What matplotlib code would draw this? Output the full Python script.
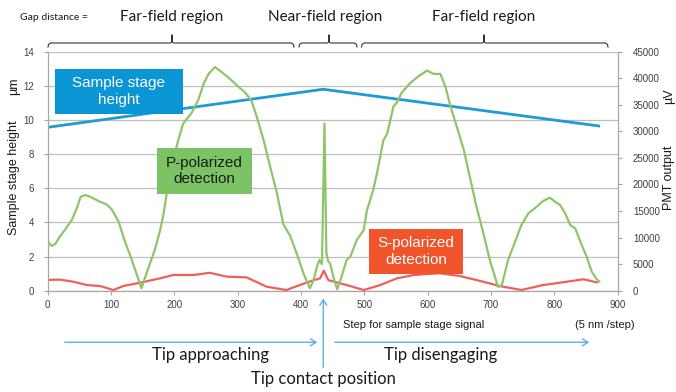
import matplotlib
matplotlib.use("Agg")
import matplotlib.pyplot as plt
from matplotlib.lines import Line2D
from matplotlib.patches import Rectangle, FancyArrowPatch

# stage height (um), left axis
stage_x = [0, 435, 870]
stage_y = [9.57, 11.8, 9.65]

# P-polarized PMT output (uV), right axis
p_x = [0, 6, 12, 19, 27, 38, 46, 52, 59, 64, 72, 83, 93, 101, 112, 122, 130, 140, 148,
       156, 169, 177, 183, 193, 206, 214, 227, 238, 246, 254, 264, 275, 288, 298, 312,
       322, 330, 341, 351, 362, 372, 383, 393, 404, 414, 420, 425, 429, 433, 437, 440,
       443, 446, 451, 457, 464, 472, 478, 488, 499, 504, 514, 520, 530, 536, 546, 551,
       559, 572, 585, 599, 609, 620, 628, 636, 646, 657, 664, 670, 677, 688, 698, 711,
       717, 727, 738, 748, 759, 772, 782, 793, 801, 809, 817, 825, 833, 841, 851, 859,
       867, 871]
p_y = [9350, 8420, 8810, 10160, 11440, 13310, 15530, 17680, 18000, 17840, 17390, 16710,
       16260, 15330, 12990, 9230, 6720, 3280, 450, 3280, 7650, 11120, 14460, 22500,
       28290, 31500, 33430, 36000, 38890, 40820, 42110, 41140, 39860, 38730, 37290,
       35680, 32790, 28290, 23460, 18320, 12540, 10290, 7070, 3210, 450, 2030, 4500,
       5790, 5000, 31500, 7070, 5500, 5140, 2640, 260, 2640, 5790, 6430, 9550, 11410,
       15110, 18960, 22180, 28290, 29570, 34710, 35360, 37290, 39050, 40340, 41460,
       40820, 40820, 38410, 34710, 30860, 26520, 22730, 19570, 15810, 10800, 5790, 740,
       1060, 5790, 9230, 12380, 14560, 15810, 16880, 17520, 16750, 16140, 14560, 12380,
       11730, 9230, 6400, 3570, 2150, 1700]

# S-polarized PMT output (uV), right axis
s_x = [0, 19, 40, 62, 83, 104, 119, 146, 177, 198, 230, 256, 283, 314, 346, 377, 398,
       420, 430, 436, 443, 462, 472, 499, 525, 551, 578, 619, 651, 683, 714, 748, 782,
       809, 846, 867]
s_y = [2030, 2090, 1700, 1060, 870, 130, 870, 1510, 2310, 2960, 2960, 3370, 2640, 2510,
       740, 130, 1060, 1990, 2310, 3760, 1990, 1380, 1060, 130, 1060, 2310, 2960, 3280,
       2760, 1830, 870, 130, 1060, 1510, 2150, 1570]

x_ticks = [0, 100, 200, 300, 400, 500, 600, 700, 800, 900]
left_ticks = [0, 2, 4, 6, 8, 10, 12, 14]
right_ticks = [0, 5000, 10000, 15000, 20000, 25000, 30000, 35000, 40000, 45000]

W, H = 676, 392
fig = plt.figure(figsize=(W / 100, H / 100), dpi=100)
ax = fig.add_axes([47.7 / W, 1 - 290.7 / H, 570 / W, 239 / H])
ax2 = ax.twinx()

tick_col = "#404040"
axis_col = "#a6a6a6"
ax.set_xlim(0, 900)
ax.set_ylim(0, 14)
ax2.set_ylim(0, 45000)
ax.set_xticks(x_ticks)
ax.set_yticks(left_ticks)
ax2.set_yticks(right_ticks)
ax.grid(axis="y", color="#bfbfbf", lw=0.9)
ax.set_axisbelow(True)
for a in (ax, ax2):
    a.tick_params(labelsize=7, colors=tick_col, length=3, width=0.8, pad=2)
    for k, s in a.spines.items():
        s.set_color(axis_col)
    a.spines["top"].set_visible(False)
    for lab in a.get_xticklabels() + a.get_yticklabels():
        lab.set_family("Liberation Sans")
ax.tick_params(axis="x", pad=4)
ax.tick_params(axis="y", pad=7)
ax2.tick_params(axis="y", pad=8)
ax.tick_params(axis="both", color=axis_col)
ax2.tick_params(axis="both", color=axis_col)

ax.plot(stage_x, stage_y, color="#1f9ad6", lw=2)
ax2.plot(s_x, s_y, color="#f0605a", lw=1.6)
ax2.plot(p_x, p_y, color="#8dc66a", lw=1.6)

# labelled boxes
boxes = [
    ((0.0128, 0.739), 0.224, 0.187, "#0a96d5", "Sample stage\nheight", "white"),
    ((0.192, 0.405), 0.166, 0.191, "#7cc365", "P-polarized\ndetection", "#1a1a1a"),
    ((0.564, 0.0686), 0.164, 0.19, "#f0542a", "S-polarized\ndetection", "white"),
]
for (bx, by), bw, bh, fc, txt, tc in boxes:
    ax2.add_patch(Rectangle((bx, by), bw, bh, transform=ax2.transAxes, fc=fc, ec="none",
                            zorder=10))
    ax2.text(bx + bw / 2, by + bh / 2, txt, transform=ax2.transAxes, ha="center",
             va="center", color=tc, fontsize=11, family="Liberation Sans", zorder=11,
             linespacing=1.25)


def fx(px):
    return px / W


def fy(py):
    return 1 - py / H


ann = "Lato"
# axis titles
fig.text(fx(14), fy(178), "Sample stage height", rotation=90, ha="center", va="center",
         fontsize=9, family="Liberation Sans", color="#1a1a1a")
fig.text(fx(14), fy(86), "\u00b5m", rotation=90, ha="center", va="center",
         fontsize=9, family="Liberation Sans", color="#1a1a1a")
fig.text(fx(669), fy(178), "PMT output", rotation=90, ha="center", va="center",
         fontsize=9, family="Liberation Sans", color="#1a1a1a")
fig.text(fx(669), fy(96), "\u00b5V", rotation=90, ha="center", va="center",
         fontsize=9, family="Liberation Sans", color="#1a1a1a")

# top region labels and braces
fig.text(fx(20), fy(17), "Gap distance =", fontsize=7.5, family=ann, va="center",
         color="#1a1a1a")
for xc, lab in [(172, "Far-field region"), (325, "Near-field region"),
                (484, "Far-field region")]:
    fig.text(fx(xc), fy(17), lab, fontsize=11, family=ann, ha="center", va="center",
             color="#1a1a1a")


def brace(x0, x1, xc):
    xs = [x0, x0 + 0.5, x0 + 2.5, xc - 1.5, xc, xc, xc, xc + 1.5, x1 - 2.5, x1 - 0.5, x1]
    ys = [47, 44.5, 43, 43, 41.5, 35, 41.5, 43, 43, 44.5, 47]
    fig.add_artist(Line2D([fx(v) for v in xs], [fy(v) for v in ys], color="#333333",
                          lw=0.8))


brace(48, 294, 172)
brace(299, 357, 329)
brace(361.5, 608, 484)

# bottom annotations
fig.text(fx(343), fy(325), "Step for sample stage signal", fontsize=8,
         family="Liberation Sans", va="center", color="#1a1a1a")
fig.text(fx(635), fy(325), "(5 nm /step)", fontsize=8, family="Liberation Sans",
         va="center", ha="right", color="#1a1a1a")

arrow_col = "#5ab4df"
for x0, x1, y0, y1 in [(62, 320, 342.3, 342.3), (332, 592, 342.3, 342.3),
                       (323.3, 323.3, 370, 295.7)]:
    fig.add_artist(FancyArrowPatch(
        (fx(x0), fy(y0)), (fx(x1), fy(y1)), transform=fig.transFigure,
        arrowstyle="->,head_length=4,head_width=2.5", color=arrow_col, lw=1,
        mutation_scale=1))

fig.text(fx(211), fy(355), "Tip approaching", fontsize=12, family=ann, ha="center",
         va="center", color="#1a1a1a")
fig.text(fx(441), fy(355), "Tip disengaging", fontsize=12, family=ann, ha="center",
         va="center", color="#1a1a1a")
fig.text(fx(323), fy(379), "Tip contact position", fontsize=12, family=ann,
         ha="center", va="center", color="#1a1a1a")

fig.savefig("out.png", dpi=100)
